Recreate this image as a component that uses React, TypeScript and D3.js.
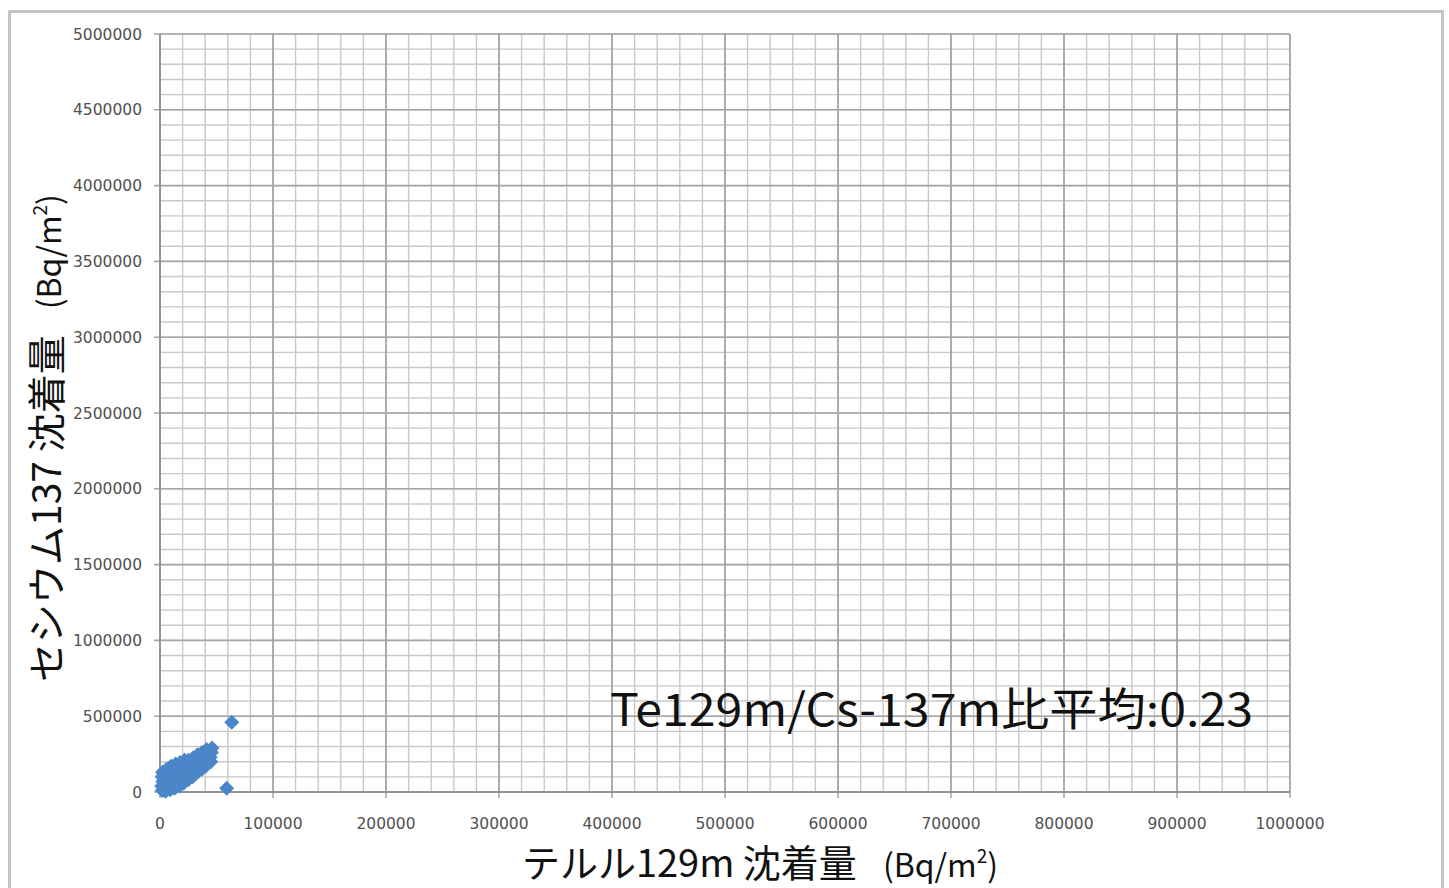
import React from "react";
import * as d3 from "d3";

const xTicks = [0, 100000, 200000, 300000, 400000, 500000, 600000, 700000, 800000, 900000, 1000000];
const yTicks = [0, 500000, 1000000, 1500000, 2000000, 2500000, 3000000, 3500000, 4000000, 4500000, 5000000];

// Te-129m deposition (Bq/m2)
const teValues = [
  2000, 1500, 2500, 1800, 2200,
  5000, 4500, 5500, 4800, 5200, 5800,
  9000, 8500, 9500, 8800, 9200, 9800,
  13000, 12500, 13500, 12800, 13200, 13800,
  17000, 16500, 17500, 16800, 17200, 17800,
  21000, 20500, 21500, 20800, 21200, 21800,
  25000, 24500, 25500, 24800, 25200,
  29000, 28500, 29500, 28800, 29200,
  33000, 32500, 33500, 32800, 33200,
  37000, 36500, 37500, 36800, 37200,
  41000, 40500, 41500, 40800, 41200,
  45000, 44500, 45500, 46000,
  63500, 59000,
];
// Cs-137 deposition (Bq/m2)
const csValues = [
  10000, 40000, 70000, 100000, 130000,
  5000, 30000, 60000, 90000, 120000, 150000,
  15000, 45000, 80000, 110000, 140000, 170000,
  25000, 60000, 95000, 130000, 160000, 185000,
  40000, 75000, 110000, 145000, 175000, 195000,
  60000, 95000, 130000, 160000, 190000, 210000,
  80000, 115000, 150000, 180000, 210000,
  100000, 135000, 170000, 200000, 225000,
  130000, 160000, 190000, 220000, 245000,
  150000, 180000, 210000, 240000, 260000,
  175000, 205000, 235000, 260000, 280000,
  200000, 230000, 260000, 290000,
  460000, 25000,
];

const annotation = "Te129m/Cs-137m比平均:0.23";

export default function App() {
  const W = 1449, H = 888;
  const x = d3.scaleLinear().domain([0, 1000000]).range([160, 1290]);
  const y = d3.scaleLinear().domain([0, 5000000]).range([792, 34]);
  const xMinor = d3.range(0, 1000001, 20000);
  const yMinor = d3.range(0, 5000001, 100000);
  const r = 7.5;
  const diamond = `M0,${-r}L${r},0L0,${r}L${-r},0Z`;
  const fmt = (v: number) => String(v);
  const jp = "'Noto Sans CJK JP', 'Noto Sans', sans-serif";
  const num = "'DejaVu Sans', Verdana, sans-serif";

  return (
    <svg width={W} height={H} style={{ position: "absolute", left: 0, top: 0, background: "#fff" }}>
      <rect x={9.5} y={11.5} width={1433} height={H} fill="#fff" stroke="#c4c4c4" strokeWidth={3} />
      {/* minor grid */}
      {xMinor.map((v) => (
        <line key={"xm" + v} x1={x(v)} x2={x(v)} y1={y(5000000)} y2={y(0)} stroke="#c8c8c8" strokeWidth={1.4} />
      ))}
      {yMinor.map((v) => (
        <line key={"ym" + v} x1={x(0)} x2={x(1000000)} y1={y(v)} y2={y(v)} stroke="#c8c8c8" strokeWidth={1.4} />
      ))}
      {/* major grid */}
      {xTicks.map((v) => (
        <line key={"xM" + v} x1={x(v)} x2={x(v)} y1={y(5000000)} y2={y(0) + 6} stroke="#959595" strokeWidth={1.3} />
      ))}
      {yTicks.map((v) => (
        <line key={"yM" + v} x1={x(0) - 6} x2={x(1000000)} y1={y(v)} y2={y(v)} stroke="#a5a5a5" strokeWidth={1.6} />
      ))}
      {/* axes */}
      <line x1={x(0)} x2={x(0)} y1={y(5000000)} y2={y(0)} stroke="#8a8a8a" strokeWidth={1.4} />
      <line x1={x(0)} x2={x(1000000)} y1={y(0)} y2={y(0)} stroke="#8a8a8a" strokeWidth={1.4} />
      {/* tick labels */}
      {yTicks.map((v) => (
        <text key={"yl" + v} x={142} y={y(v)} dy="0.36em" textAnchor="end" fontFamily={num} fontSize={15.5} fill="#505050">
          {fmt(v)}
        </text>
      ))}
      {xTicks.map((v) => (
        <text key={"xl" + v} x={x(v)} y={829} textAnchor="middle" fontFamily={num} fontSize={15.5} fill="#505050">
          {fmt(v)}
        </text>
      ))}
      {/* points */}
      {teValues.map((t, i) => (
        <path key={"p" + i} d={diamond} transform={`translate(${x(t)},${y(csValues[i])})`} fill="#4a86c8" />
      ))}
      {/* annotation */}
      <text x={610} y={726} fontFamily={jp} fontSize={45} fill="#111" textLength={643} lengthAdjust="spacingAndGlyphs">{annotation}</text>
      {/* x title */}
      <text x={760} y={877} textAnchor="middle" fill="#111" fontFamily={jp}>
        <tspan fontSize={38}>テルル129m 沈着量</tspan>
        <tspan fontSize={32} dx={26}>(Bq/m</tspan>
        <tspan fontSize={19} dy={-14}>2</tspan>
        <tspan fontSize={32} dy={14}>)</tspan>
      </text>
      {/* y title */}
      <text transform="translate(61,438) rotate(-90)" textAnchor="middle" fill="#111" fontFamily={jp}>
        <tspan fontSize={39}>セシウム137 沈着量</tspan>
        <tspan fontSize={32} dx={26}>(Bq/m</tspan>
        <tspan fontSize={19} dy={-14}>2</tspan>
        <tspan fontSize={32} dy={14}>)</tspan>
      </text>
    </svg>
  );
}
